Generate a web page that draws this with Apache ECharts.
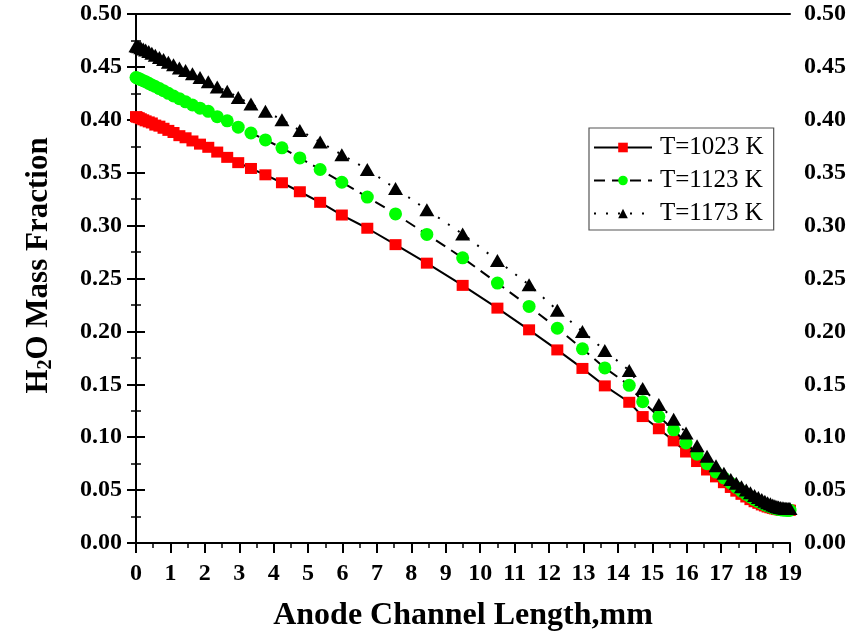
<!DOCTYPE html>
<html>
<head>
<meta charset="utf-8">
<script src="https://cdn.jsdelivr.net/npm/echarts@6/dist/echarts.min.js"></script>
<style>
  html, body { margin: 0; padding: 0; background: #ffffff; }
  #chart { width: 854px; height: 637px; }
</style>
</head>
<body>
<div id="chart"></div>
<script>
// Mesh positions along the anode channel (mm)
const positions = [
  0, 0.03, 0.08, 0.14, 0.21, 0.28, 0.37, 0.46, 0.56, 0.68, 0.80, 0.94, 1.09, 1.26, 1.44, 1.64, 1.86,
  2.10, 2.36, 2.65, 2.97, 3.34, 3.76, 4.24, 4.76, 5.35, 5.98, 6.72, 7.54, 8.45, 9.49, 10.50, 11.42,
  12.24, 12.97, 13.62, 14.33, 14.72, 15.19, 15.62, 15.98, 16.30, 16.59, 16.85, 17.08,
  17.28, 17.44, 17.59, 17.73, 17.85, 17.97, 18.08, 18.18, 18.27, 18.35, 18.43, 18.50, 18.56, 18.62,
  18.67, 18.72, 18.77, 18.82, 18.86, 18.90, 18.94, 18.97, 19.00
];

// H2O mass fraction at each position
const massT1023 = [
  0.403, 0.4025, 0.402, 0.401, 0.400, 0.399, 0.398, 0.397, 0.395, 0.394, 0.392, 0.390, 0.388, 0.385, 0.383, 0.380, 0.377,
  0.374, 0.3695, 0.3645, 0.3595, 0.354, 0.348, 0.3405, 0.332, 0.322, 0.310, 0.2975, 0.282, 0.2645, 0.2435, 0.222, 0.2015,
  0.1825, 0.165, 0.1485, 0.133, 0.1195, 0.108, 0.0965, 0.086, 0.077, 0.069, 0.0625, 0.057,
  0.0525, 0.049, 0.046, 0.0435, 0.041, 0.039, 0.0375, 0.036, 0.035, 0.034, 0.0333, 0.0327, 0.0322, 0.0318,
  0.0315, 0.0313, 0.0311, 0.031, 0.031, 0.031, 0.031, 0.031, 0.031
];
const massT1123 = [
  0.440, 0.4395, 0.439, 0.438, 0.437, 0.436, 0.4345, 0.433, 0.4315, 0.4295, 0.4275, 0.425, 0.4225, 0.420, 0.417, 0.414, 0.411,
  0.408, 0.403, 0.399, 0.393, 0.3875, 0.381, 0.3735, 0.364, 0.353, 0.341, 0.327, 0.311, 0.2917, 0.2695, 0.2457, 0.2236,
  0.203, 0.1835, 0.1655, 0.149, 0.1335, 0.1195, 0.107, 0.0945, 0.084, 0.075, 0.067, 0.0615,
  0.0565, 0.0525, 0.049, 0.046, 0.0435, 0.041, 0.039, 0.0375, 0.036, 0.035, 0.034, 0.0333, 0.0327, 0.0322,
  0.0318, 0.0315, 0.0313, 0.0312, 0.0311, 0.031, 0.031, 0.031, 0.031
];
const massT1173 = [
  0.470, 0.4695, 0.469, 0.468, 0.467, 0.466, 0.4645, 0.463, 0.461, 0.459, 0.457, 0.4545, 0.452, 0.449, 0.4465, 0.4435, 0.440,
  0.436, 0.431, 0.427, 0.421, 0.415, 0.408, 0.400, 0.390, 0.379, 0.367, 0.353, 0.335, 0.315, 0.292, 0.267, 0.244,
  0.220, 0.200, 0.182, 0.163, 0.146, 0.131, 0.117, 0.104, 0.092, 0.082, 0.073, 0.066,
  0.060, 0.0565, 0.0532, 0.050, 0.0475, 0.045, 0.043, 0.041, 0.0395, 0.038, 0.037, 0.036, 0.0352, 0.0345,
  0.034, 0.0336, 0.0333, 0.033, 0.0328, 0.0327, 0.0326, 0.0325, 0.0325
];

const seriesNames = ['T=1023 K', 'T=1123 K', 'T=1173 K'];

const FONT = '"Liberation Serif", "Times New Roman", serif';

function pairs(ys) {
  return positions.map((x, i) => [x, ys[i]]);
}

const tickLabelStyle = {
  fontFamily: FONT, fontWeight: 'bold', fontSize: 24, color: '#000'
};

const yAxisBase = {
  type: 'value', min: 0, max: 0.5, interval: 0.05,
  axisLine: { show: true, lineStyle: { color: '#000', width: 2 } },
  axisTick: { show: true, inside: false, length: 9, lineStyle: { color: '#000', width: 2 } },
  minorTick: { show: true, splitNumber: 2, length: 5, lineStyle: { color: '#000', width: 1.5 } },
  splitLine: { show: false },
  axisLabel: Object.assign({ margin: 14, formatter: v => v.toFixed(2) }, tickLabelStyle)
};

const chart = echarts.init(document.getElementById('chart'), null, { renderer: 'canvas' });

chart.setOption({
  animation: false,
  backgroundColor: '#ffffff',
  grid: { left: 136, right: 64, top: 14, bottom: 94 },
  legend: {
    orient: 'vertical',
    left: 589, top: 128,
    padding: [7, 10, 4, 4],
    itemWidth: 58, itemHeight: 12, itemGap: 8,
    borderColor: '#555', borderWidth: 1.2,
    textStyle: { fontFamily: FONT, fontSize: 25, color: '#000', padding: [0, 0, 0, 3] },
    data: seriesNames
  },
  xAxis: [
    {
      type: 'value', min: 0, max: 19, interval: 1,
      name: 'Anode Channel Length,mm',
      nameLocation: 'middle', nameGap: 57,
      nameTextStyle: { fontFamily: FONT, fontWeight: 'bold', fontSize: 32, color: '#000' },
      axisLine: { show: true, onZero: false, lineStyle: { color: '#000', width: 2 } },
      axisTick: { show: true, inside: false, length: 10, lineStyle: { color: '#000', width: 2 } },
      minorTick: { show: true, splitNumber: 2, length: 5, lineStyle: { color: '#000', width: 1.5 } },
      splitLine: { show: false },
      axisLabel: Object.assign({ margin: 19 }, tickLabelStyle)
    },
    {
      type: 'value', min: 0, max: 19, position: 'top',
      axisLine: { show: true, onZero: false, lineStyle: { color: '#000', width: 2 } },
      axisTick: { show: false }, axisLabel: { show: false }, splitLine: { show: false }
    }
  ],
  yAxis: [
    Object.assign({}, yAxisBase, {
      position: 'left',
      name: 'H{sub|2}O Mass Fraction',
      nameLocation: 'middle', nameGap: 80, nameRotate: 90,
      nameTextStyle: {
        fontFamily: FONT, fontWeight: 'bold', fontSize: 31, color: '#000',
        padding: [0, 0, 0, 26],
        rich: { sub: { fontFamily: FONT, fontWeight: 'bold', fontSize: 20, color: '#000', padding: [14, 0, 0, 0] } }
      }
    }),
    Object.assign({}, yAxisBase, { position: 'right' })
  ],
  series: [
    {
      name: seriesNames[0], type: 'line', data: pairs(massT1023),
      symbol: 'rect', symbolSize: [12, 11],
      itemStyle: { color: '#ff0000' },
      lineStyle: { color: '#000', width: 2, type: 'solid' },
      z: 2
    },
    {
      name: seriesNames[1], type: 'line', data: pairs(massT1123),
      symbol: 'circle', symbolSize: 13,
      itemStyle: { color: '#00ff00' },
      lineStyle: { color: '#000', width: 2, type: [11, 7] },
      z: 3
    },
    {
      name: seriesNames[2], type: 'line', data: pairs(massT1173),
      symbol: 'triangle', symbolSize: [15, 13],
      itemStyle: { color: '#000000' },
      lineStyle: { color: '#000', width: 2, type: [2, 10] },
      z: 4
    }
  ]
});
</script>
</body>
</html>
